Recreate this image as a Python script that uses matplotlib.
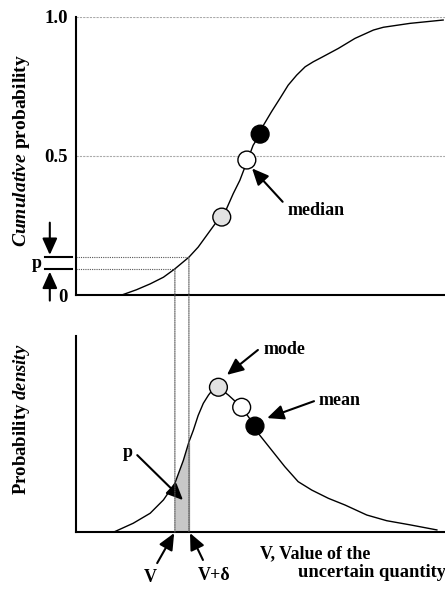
import numpy as np
import matplotlib.pyplot as plt
from matplotlib.patches import ConnectionPatch

plt.rcParams['font.family'] = 'Liberation Serif'
plt.rcParams['font.weight'] = 'bold'
plt.rcParams['mathtext.fontset'] = 'custom'
plt.rcParams['mathtext.it'] = 'Liberation Serif:italic:bold'
plt.rcParams['mathtext.rm'] = 'Liberation Serif:bold'

# Cumulative distribution
v_cdf = [1.24, 1.64, 2.01, 2.37, 2.68, 3.06, 3.31, 3.54, 3.77, 3.95, 4.08,
         4.26, 4.44, 4.63, 4.80, 4.99, 5.08, 5.30, 5.53, 5.75, 5.98, 6.21,
         6.43, 6.66, 7.11, 7.56, 8.06, 8.33, 9.05, 9.95]
cdf = [0.0, 0.019, 0.040, 0.064, 0.094, 0.136, 0.172, 0.214, 0.256, 0.280,
       0.310, 0.364, 0.412, 0.478, 0.538, 0.578, 0.610, 0.659, 0.707, 0.754,
       0.790, 0.820, 0.838, 0.854, 0.886, 0.922, 0.952, 0.962, 0.976, 0.988]

# Probability density
v_pdf = [1.01, 1.55, 2.01, 2.37, 2.68, 2.91, 3.06, 3.18, 3.31, 3.45, 3.59,
         3.71, 3.86, 4.13, 4.49, 4.85, 4.94, 5.30, 5.66, 6.02, 6.39, 6.84,
         7.29, 7.88, 8.42, 9.05, 9.78]
pdf = [0.0, 0.046, 0.097, 0.165, 0.250, 0.367, 0.46, 0.520, 0.595, 0.657,
       0.699, 0.728, 0.739, 0.699, 0.637, 0.541, 0.504, 0.419, 0.334, 0.258,
       0.215, 0.173, 0.139, 0.088, 0.059, 0.038, 0.012]

# mode, median, mean
stat_colors = ['#e2e2e2', 'white', 'black']
stat_v_cdf = [3.95, 4.63, 4.99]
stat_cdf = [0.28, 0.485, 0.578]
stat_v_pdf = [3.86, 4.49, 4.85]
stat_pdf = [0.739, 0.637, 0.541]

# the small interval [V, V+delta]
v_lo, v_hi = 2.68, 3.06
p_lo, p_hi = 0.094, 0.136

fs = 13

fig = plt.figure(figsize=(4.45, 5.96), dpi=100)
ax1 = fig.add_axes([0.1708, 0.505, 0.8292, 0.467])
ax2 = fig.add_axes([0.1708, 0.1069, 0.8292, 0.3293])

for ax in (ax1, ax2):
    ax.set_xlim(0, 10)
    ax.set_ylim(0, 1)
    for s in ('top', 'right'):
        ax.spines[s].set_visible(False)
    for s in ('left', 'bottom'):
        ax.spines[s].set_linewidth(1.5)
    ax.set_xticks([])
    ax.tick_params(length=0)

# --- cumulative panel
ax1.set_yticks([0, 0.5, 1.0])
ax1.set_yticklabels(['0', '0.5', '1.0'], fontsize=fs + 0.5, fontweight='bold')
ax1.tick_params(axis='y', pad=6)
for lvl in (0.5, 1.0):
    ax1.axhline(lvl, color='#aaaaaa', ls=(0, (2, 1)), lw=0.8, zorder=1)
ax1.plot(v_cdf, cdf, color='black', lw=1.0, zorder=2, solid_joinstyle='round')
ax1.scatter(stat_v_cdf, stat_cdf, s=165, c=stat_colors, edgecolors='black',
            linewidths=1.0, zorder=3)

for v, p in ((v_lo, p_lo), (v_hi, p_hi)):
    ax1.plot([0, v], [p, p], color='#555555', ls=(0, (1, 1)), lw=0.8)
    con = ConnectionPatch(xyA=(v, p), coordsA=ax1.transData,
                          xyB=(v, 0), coordsB=ax2.transData,
                          color='#555555', ls=(0, (1, 1)), lw=0.8)
    fig.add_artist(con)

# bracket marking p on the axis
tr = ax1.get_yaxis_transform()
for p in (p_lo, p_hi):
    ax1.plot([-0.084, -0.011], [p, p], color='black', lw=1.5,
             transform=tr, clip_on=False)
arw = dict(arrowstyle='-|>,head_length=1.0,head_width=0.45', color='black',
           lw=1.5, mutation_scale=10, shrinkA=0, shrinkB=0)
ax1.annotate('', xy=(-0.071, p_hi + 0.008), xytext=(-0.071, 0.26),
             xycoords=tr, textcoords=tr, arrowprops=arw, annotation_clip=False)
ax1.annotate('', xy=(-0.071, p_lo - 0.01), xytext=(-0.071, -0.02),
             xycoords=tr, textcoords=tr, arrowprops=arw, annotation_clip=False)
ax1.text(-0.106, (p_lo + p_hi) / 2, 'p', transform=tr, fontsize=fs,
         ha='center', va='center')

ax1.annotate('', xy=(4.77, 0.455), xytext=(5.6, 0.335), arrowprops=arw)
ax1.text(5.72, 0.304, 'median', fontsize=fs, ha='left', va='center')

# --- density panel
ax2.set_yticks([])
ax2.plot(v_pdf, pdf, color='black', lw=1.0, zorder=2, solid_joinstyle='round')
sel = [(v >= v_lo - 1e-9) and (v <= v_hi + 1e-9) for v in v_pdf]
ax2.fill_between(v_pdf, pdf, where=sel, color='#c8c8c8', zorder=1)
ax2.plot([v_hi, v_hi], [0, pdf[v_pdf.index(v_hi)]], color='#999999', lw=0.8)
ax2.scatter(stat_v_pdf, stat_pdf, s=165, c=stat_colors, edgecolors='black',
            linewidths=1.0, zorder=3)

ax2.annotate('', xy=(4.09, 0.802), xytext=(4.93, 0.929), arrowprops=arw)
ax2.text(5.07, 0.929, 'mode', fontsize=fs, ha='left', va='center')
ax2.annotate('', xy=(5.18, 0.582), xytext=(6.45, 0.668), arrowprops=arw)
ax2.text(6.56, 0.674, 'mean', fontsize=fs, ha='left', va='center')
ax2.annotate('', xy=(2.90, 0.164), xytext=(1.66, 0.393), arrowprops=arw)
ax2.text(1.41, 0.408, 'p', fontsize=fs, ha='center', va='center')

ax2.annotate('', xy=(2.66, -0.004), xytext=(2.20, -0.157), arrowprops=arw,
             annotation_clip=False)
ax2.text(2.0, -0.228, 'V', fontsize=fs, ha='center', va='center')
ax2.annotate('', xy=(3.09, -0.004), xytext=(3.44, -0.141), arrowprops=arw,
             annotation_clip=False)
ax2.text(3.74, -0.218, 'V+δ', fontsize=fs, ha='center', va='center')

ax2.text(4.99, -0.11, 'V, Value of the', fontsize=fs, ha='left',
         va='center', clip_on=False)
ax2.text(6.02, -0.205, 'uncertain quantity', fontsize=fs + 0.3, ha='left',
         va='center', clip_on=False)

fig.text(0.049, 0.748, r'$\mathit{Cumulative}$ probability', rotation=90,
         fontsize=fs + 1, fontweight='bold', ha='center', va='center')
fig.text(0.049, 0.297, r'Probability $\mathit{density}$', rotation=90,
         fontsize=fs + 0.5, fontweight='bold', ha='center', va='center')

fig.savefig('out.png', dpi=100)
